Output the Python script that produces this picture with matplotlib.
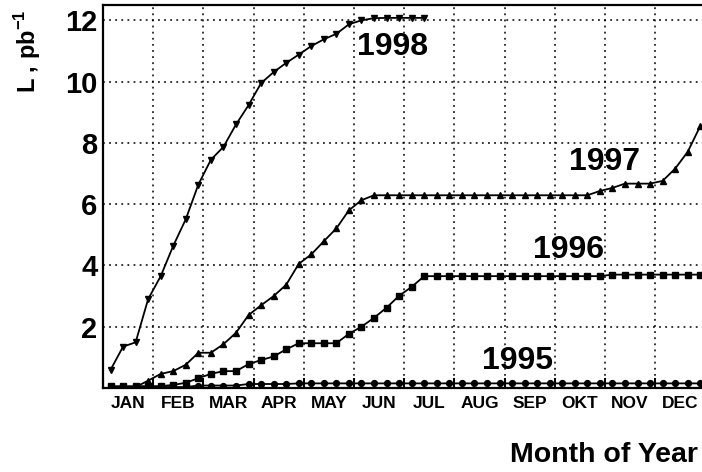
import numpy as np
import matplotlib
matplotlib.use('Agg')
import matplotlib.pyplot as plt

plt.rcParams['font.family'] = ['Liberation Sans', 'DejaVu Sans']
plt.rcParams['font.weight'] = 'bold'
plt.rcParams['mathtext.fontset'] = 'custom'
plt.rcParams['mathtext.rm'] = 'Liberation Sans:bold'
plt.rcParams['mathtext.bf'] = 'Liberation Sans:bold'

# week index (4 points per month)
week = list(range(1, 49))
months = ['JAN', 'FEB', 'MAR', 'APR', 'MAY', 'JUN', 'JUL', 'AUG', 'SEP', 'OKT', 'NOV', 'DEC']

L1995 = [0.03, 0.03, 0.03, 0.03, 0.03, 0.03, 0.03, 0.08, 0.08, 0.08, 0.08, 0.13,
         0.13, 0.13, 0.13, 0.15, 0.15, 0.15, 0.15, 0.15, 0.15, 0.15, 0.15, 0.15,
         0.15, 0.15, 0.15, 0.15, 0.15, 0.15, 0.15, 0.15, 0.15, 0.15, 0.15, 0.15,
         0.15, 0.15, 0.15, 0.15, 0.15, 0.15, 0.15, 0.15, 0.15, 0.15, 0.15, 0.15]
L1996 = [0.06, 0.06, 0.06, 0.06, 0.06, 0.10, 0.17, 0.32, 0.46, 0.55, 0.55, 0.78,
         0.91, 1.03, 1.26, 1.46, 1.46, 1.46, 1.46, 1.77, 2.00, 2.29, 2.62, 3.01,
         3.30, 3.65, 3.65, 3.65, 3.65, 3.65, 3.65, 3.65, 3.65, 3.65, 3.65, 3.65,
         3.65, 3.65, 3.65, 3.65, 3.70, 3.70, 3.70, 3.70, 3.70, 3.70, 3.70, 3.70]
L1997 = [0.03, 0.03, 0.03, 0.24, 0.46, 0.55, 0.76, 1.15, 1.15, 1.43, 1.80, 2.38,
         2.70, 3.00, 3.37, 4.05, 4.36, 4.79, 5.21, 5.80, 6.13, 6.29, 6.29, 6.29,
         6.29, 6.29, 6.29, 6.29, 6.29, 6.29, 6.29, 6.29, 6.29, 6.29, 6.29, 6.29,
         6.29, 6.29, 6.29, 6.43, 6.53, 6.67, 6.67, 6.67, 6.76, 7.16, 7.71, 8.55]
L1998 = [0.59, 1.35, 1.49, 2.90, 3.65, 4.64, 5.51, 6.64, 7.45, 7.87, 8.60, 9.23,
         9.95, 10.31, 10.61, 10.88, 11.16, 11.38, 11.56, 11.87, 12.00, 12.07, 12.08, 12.08,
         12.08, 12.08]

fig = plt.figure(figsize=(7.02, 4.72), dpi=100)
ax = fig.add_axes([0.1467, 0.178, 0.858, 0.8114])

lw = 1.3
ax.plot(week, L1995, '-o', color='black', lw=lw, ms=4.2, zorder=3)
ax.plot(week, L1997, '-^', color='black', lw=lw, ms=4.8, zorder=4)
ax.plot(week, L1996, '-s', color='black', lw=lw, ms=5, zorder=5)
ax.plot(week[:len(L1998)], L1998, '-v', color='black', lw=lw, ms=4.8, zorder=6)

# week w sits at (w - 0.4) quarter months
ax.set_xlim(0.4, 48.4)
ax.set_ylim(0, 12.5)
ax.set_xticks([0.4 + 4 * m for m in range(13)])
ax.set_xticklabels([])
ax.set_xticks([2.4 + 4 * m for m in range(12)], minor=True)
ax.set_xticklabels(months, minor=True, fontsize=12.5, fontweight='bold')
ax.set_yticks([2, 4, 6, 8, 10, 12])
ax.set_yticklabels(['2', '4', '6', '8', '10', '12'], fontsize=21, fontweight='bold')
ax.tick_params(axis='x', which='major', direction='in', length=7, width=1.5)
ax.tick_params(axis='x', which='minor', length=0, pad=6)
ax.tick_params(axis='y', length=0, pad=4)

ax.grid(True, which='major', color='black', linestyle=(0, (1.2, 2.8)), lw=1.1)
for s in ax.spines.values():
    s.set_linewidth(1.6)

ax.text(23.5, 11.12, '1998', fontsize=23, fontweight='bold', ha='center', va='center', zorder=7)
ax.text(40.4, 7.37, '1997', fontsize=23, fontweight='bold', ha='center', va='center', zorder=7)
ax.text(37.5, 4.5, '1996', fontsize=23, fontweight='bold', ha='center', va='center', zorder=7)
ax.text(33.4, 0.88, '1995', fontsize=23, fontweight='bold', ha='center', va='center', zorder=7)

fig.text(28 / 702, 1 - 9 / 472, r'L , pb$^{\mathbf{-1}}$', rotation=90, fontsize=17,
         fontweight='bold', ha='center', va='top')
fig.text(510 / 702, 10 / 472, 'Month of Year', fontsize=20.5, fontweight='bold',
         ha='left', va='baseline')

plt.savefig('out.png', dpi=100)
